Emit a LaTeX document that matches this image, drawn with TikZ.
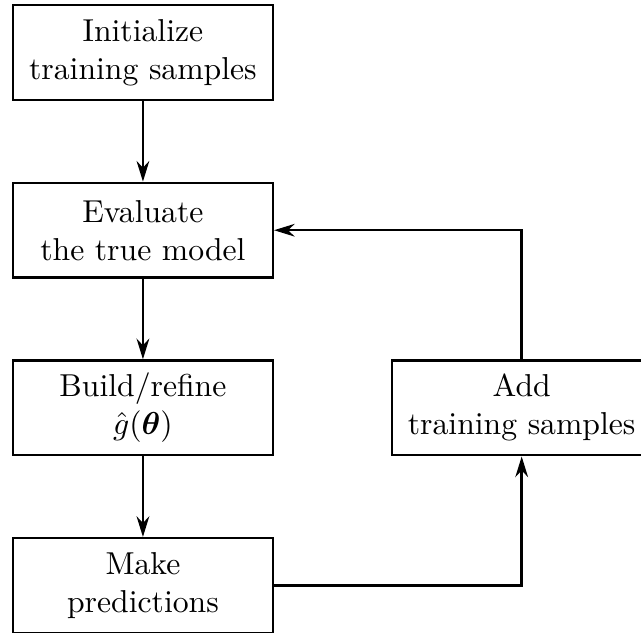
\documentclass[tikz,border=0pt]{standalone}
\usepackage{amsmath, amssymb, tikz}
\usetikzlibrary{arrows,arrows.meta,calc,positioning}

\begin{document}
\begin{tikzpicture}[box/.style={draw,thick,minimum width=2.88cm,minimum height=1.05cm,align=center},
arr/.style={thick,-{Stealth[length=6.5pt,width=4pt]}}]
\useasboundingbox (-1.585,0.583) rectangle (5.523,-6.426);
\draw (0,0) node (init) [box] {Initialize\\training samples};
\draw (0,-1.97) node (eval) [box] {Evaluate\\the true model};
\draw (0,-3.94) node (build) [box] {Build/refine\\$\hat{g}(\boldsymbol{\theta})$};
\draw (0,-5.91) node (pred) [box] {Make\\predictions};
\draw (4.2,-3.94) node (add) [box] {Add\\training samples};
\draw[arr] (init)--(eval);
\draw[arr] (eval)--(build);
\draw[arr] (build)--(pred);
\draw[arr] (pred) -| (add);
\draw[arr] (add) |- (eval);
\end{tikzpicture}
\end{document}
